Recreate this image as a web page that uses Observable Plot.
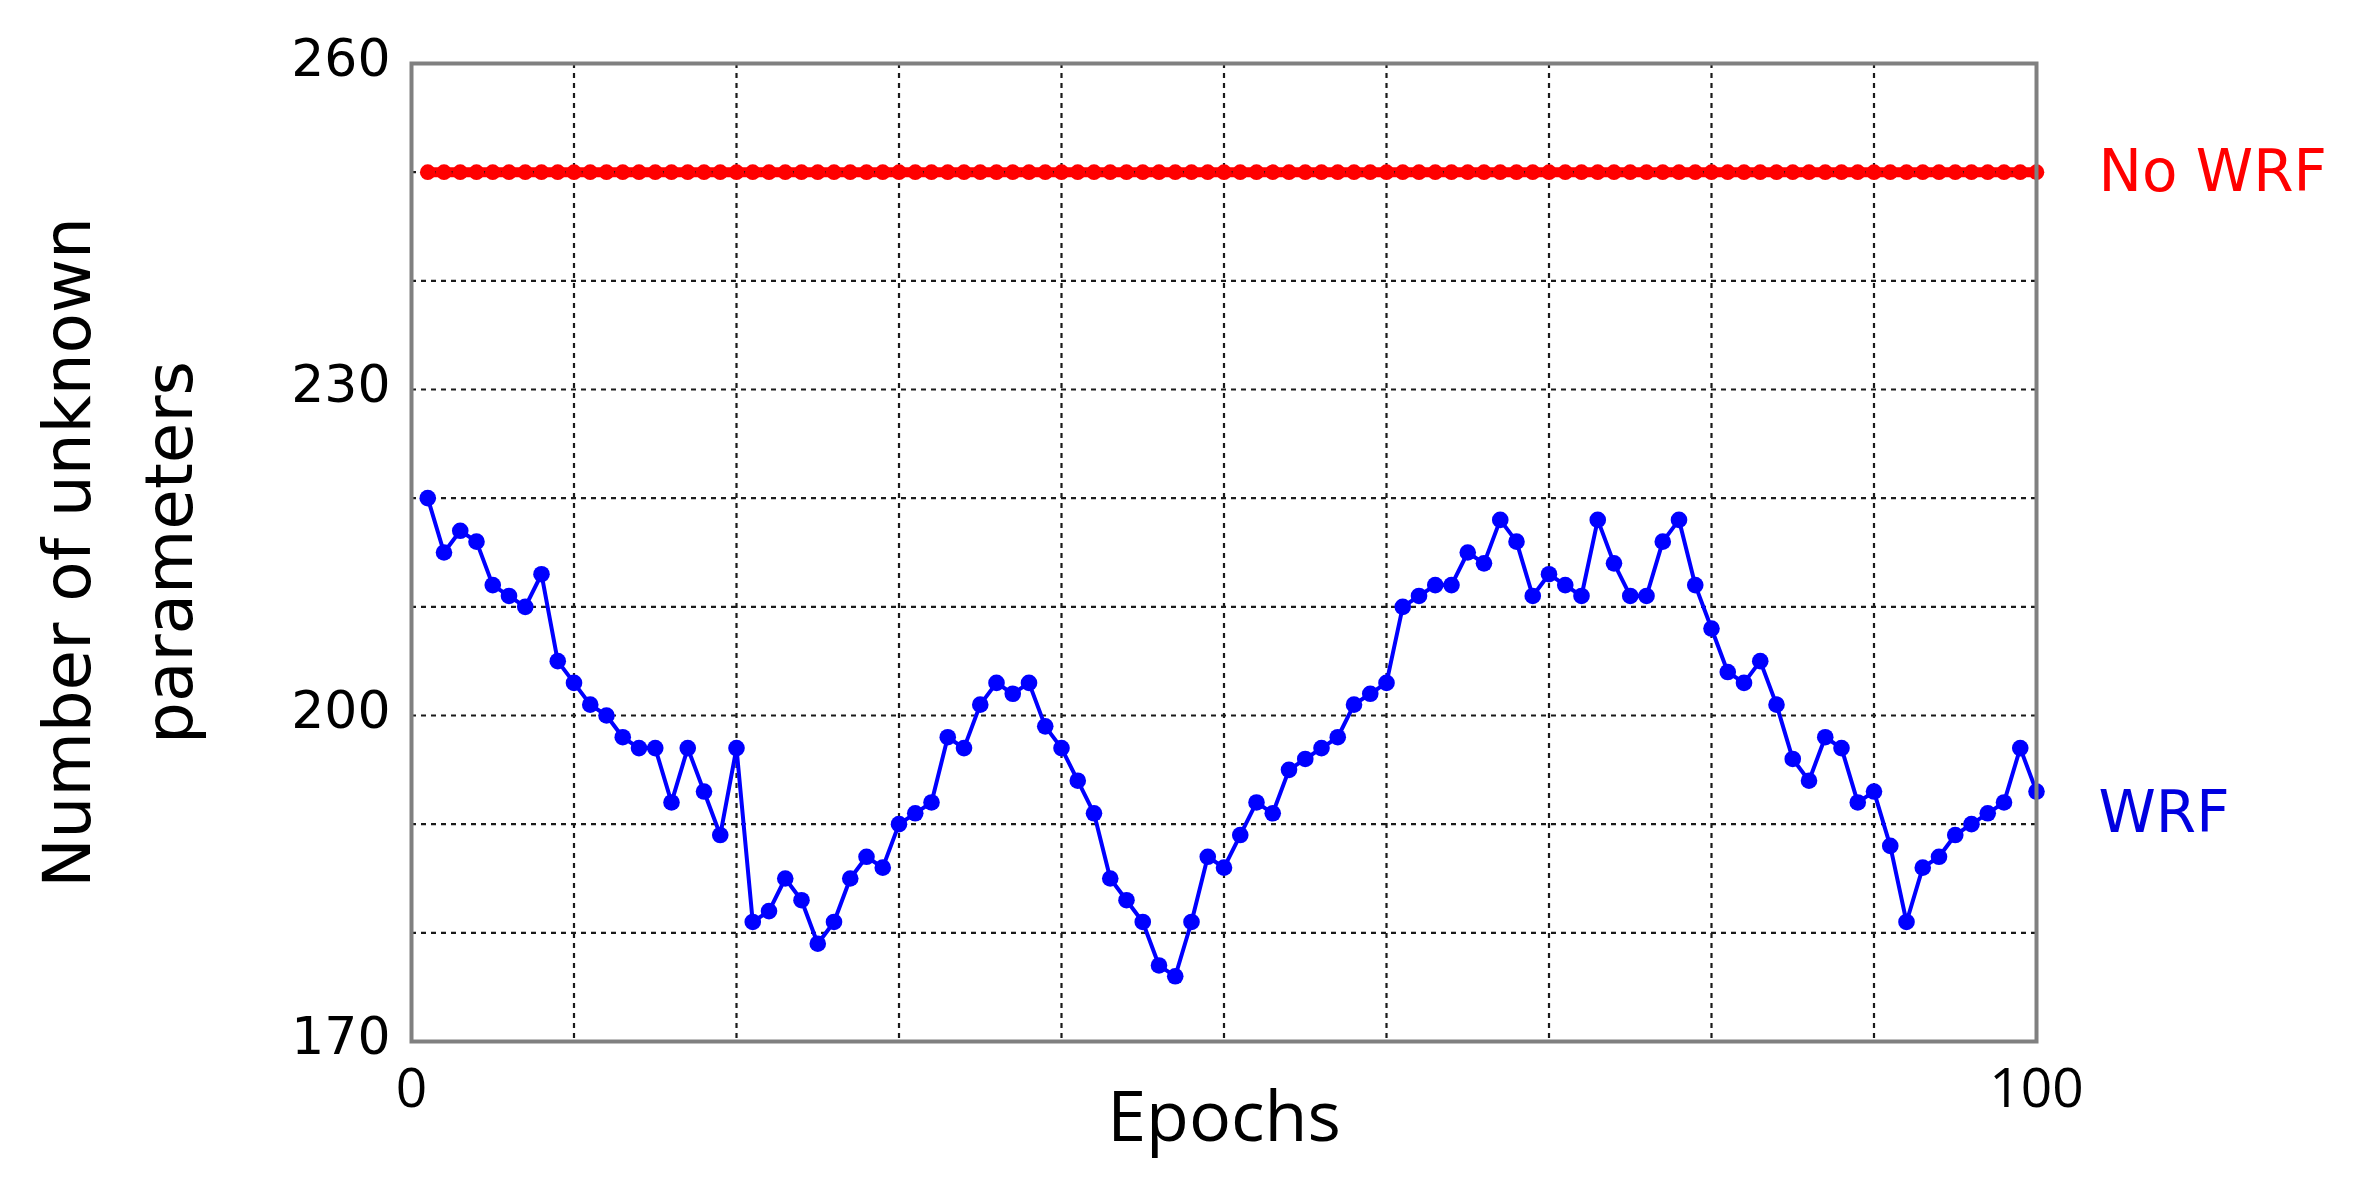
<!DOCTYPE html>
<html>
<head>
<meta charset="utf-8">
<script src="https://cdn.jsdelivr.net/npm/d3@7"></script>
<script src="https://cdn.jsdelivr.net/npm/@observablehq/plot@0.6"></script>
<style>
  html, body { margin: 0; padding: 0; background: #ffffff; }
  #chart { width: 2360px; height: 1186px; }
</style>
</head>
<body>
<div id="chart"></div>
<script>
// ---- data ----
const epochs = d3.range(1, 101);
const wrfValues = [
  220, 215, 217, 216, 212, 211, 210, 213, 205, 203,
  201, 200, 198, 197, 197, 192, 197, 193, 189, 197,
  181, 182, 185, 183, 179, 181, 185, 187, 186, 190,
  191, 192, 198, 197, 201, 203, 202, 203, 199, 197,
  194, 191, 185, 183, 181, 177, 176, 181, 187, 186,
  189, 192, 191, 195, 196, 197, 198, 201, 202, 203,
  210, 211, 212, 212, 215, 214, 218, 216, 211, 213,
  212, 211, 218, 214, 211, 211, 216, 218, 212, 208,
  204, 203, 205, 201, 196, 194, 198, 197, 192, 193,
  188, 181, 186, 187, 189, 190, 191, 192, 197, 193
];
const noWrfValue = 250;
const xTicks = [0, 100];
const yTicks = [170, 200, 230, 260];
const xGridTicks = [10, 20, 30, 40, 50, 60, 70, 80, 90];
const yGridTicks = [180, 190, 200, 210, 220, 230, 240, 250];
const seriesLabels = [
  {name: "No WRF", value: 250},
  {name: "WRF", value: 191}
];
const xLabel = "Epochs";
const yLabel = "Number of unknown\nparameters";

// ---- tables built from the arrays ----
const wrf = epochs.map((e, i) => ({epoch: e, value: wrfValues[i]}));
const noWrf = epochs.map(e => ({epoch: e, value: noWrfValue}));

const chart = Plot.plot({
  width: 2360,
  height: 1186,
  marginTop: 63,
  marginBottom: 145,
  marginLeft: 411,
  marginRight: 324,
  x: {domain: [0, 100]},
  y: {domain: [170, 260]},
  style: {fontFamily: "DejaVu Sans", background: "#ffffff", color: "#000"},
  marks: [
    // red "No WRF" line under the grid, so grid shows between dots
    Plot.line(noWrf, {x: "epoch", y: "value", stroke: "#ff0000", strokeWidth: 10}),
    Plot.gridX({ticks: xGridTicks, stroke: "#1a1a1a", strokeOpacity: 1, strokeWidth: 2.2, strokeDasharray: "5,5"}),
    Plot.gridY({ticks: yGridTicks, stroke: "#1a1a1a", strokeOpacity: 1, strokeWidth: 2.2, strokeDasharray: "5,5"}),
    Plot.dot(noWrf, {x: "epoch", y: "value", r: 7.8, fill: "#ff0000", stroke: "none"}),
    Plot.line(wrf, {x: "epoch", y: "value", stroke: "#0000ff", strokeWidth: 4}),
    Plot.dot(wrf, {x: "epoch", y: "value", r: 8.3, fill: "#0000ff", stroke: "none"}),
    Plot.frame({stroke: "#808080", strokeWidth: 4}),
    Plot.axisX({ticks: xTicks, tickSize: 0, tickPadding: 26, fontSize: 55, fontFamily: "Open Sans", label: null, fill: "#000"}),
    Plot.axisY({ticks: yTicks, tickSize: 0, tickPadding: 21, fontSize: 52, fontFamily: "DejaVu Sans", label: null, dy: -4, fill: "#000"}),
    Plot.text([xLabel], {text: d => d, frameAnchor: "bottom", dy: 99, lineAnchor: "bottom", fontSize: 70, fontFamily: "Open Sans", fill: "#000"}),
    Plot.text([yLabel], {text: d => d, frameAnchor: "left", dx: -303, rotate: -90, lineAnchor: "middle", textAnchor: "middle", lineHeight: 1.55, fontSize: 66, fontFamily: "DejaVu Sans", fill: "#000"}),
    Plot.text(seriesLabels, {x: () => 100, y: "value", text: "name", textAnchor: "start", lineAnchor: "middle", dx: 62, fontSize: 58, fontFamily: "DejaVu Sans", fill: (d) => d.name === "WRF" ? "#0000e0" : "#ff0000"})
  ]
});
document.getElementById("chart").appendChild(chart);
</script>
</body>
</html>
